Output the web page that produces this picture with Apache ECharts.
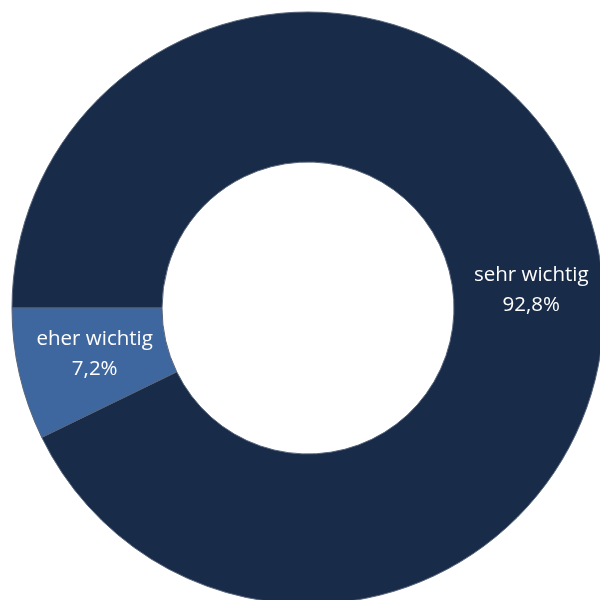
<!DOCTYPE html>
<html>
<head>
<meta charset="utf-8">
<script src="https://cdn.jsdelivr.net/npm/echarts@6/dist/echarts.min.js"></script>
<style>
  html, body { margin: 0; padding: 0; background: #ffffff; }
  #chart { width: 600px; height: 600px; }
</style>
</head>
<body>
<div id="chart"></div>
<script>
// Answer categories and their shares in percent
const categories = ['sehr wichtig', 'eher wichtig'];
const shares = [92.8, 7.2];
const sliceColors = ['#182b49', '#3e67a0'];
// Fine offsets for the two inside labels (dx, dy)
const labelShift = [[5, 32], [5, -4]];

const chart = echarts.init(document.getElementById('chart'), null, { renderer: 'canvas' });

chart.setOption({
  animation: false,
  series: [{
    type: 'pie',
    center: [308, 308],
    radius: [146, 296],
    startAngle: 180,
    clockwise: true,
    avoidLabelOverlap: false,
    itemStyle: {
      borderColor: '#56647a',
      borderWidth: 1
    },
    label: {
      show: true,
      position: 'inside',
      color: '#ffffff',
      fontFamily: '"Open Sans", "Noto Sans", sans-serif',
      fontSize: 20.5,
      lineHeight: 30,
      formatter: function (p) {
        return p.name + '\n' + p.value.toFixed(1).replace('.', ',') + '%';
      }
    },
    labelLayout: function (params) {
      const s = labelShift[params.dataIndex];
      return { dx: s[0], dy: s[1] };
    },
    data: categories.map(function (name, i) {
      return { name: name, value: shares[i], itemStyle: { color: sliceColors[i] } };
    })
  }]
});
</script>
</body>
</html>
